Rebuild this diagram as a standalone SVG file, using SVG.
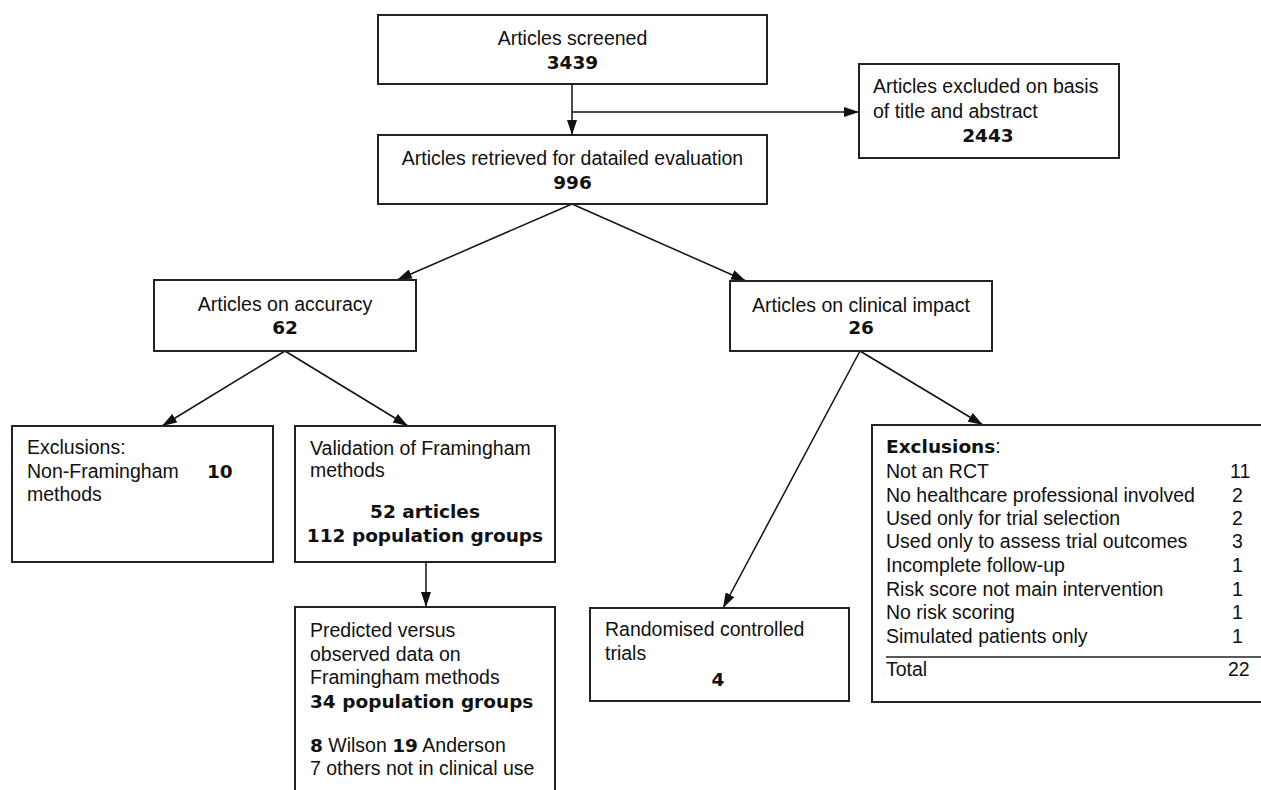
<svg xmlns="http://www.w3.org/2000/svg" width="1261" height="790" viewBox="0 0 1261 790">
<style>
.box{fill:#fff;stroke:#222;stroke-width:2}
.t{font-family:"Liberation Sans",Arial,sans-serif;font-size:19.5px;fill:#111}
.b{font-family:"DejaVu Sans","Liberation Sans",sans-serif;font-weight:bold;font-size:18.5px;fill:#111}
.c{text-anchor:middle}
.con{stroke:#111;stroke-width:1.5;fill:none;marker-end:url(#ah)}
</style>
<defs>
<marker id="ah" markerUnits="userSpaceOnUse" markerWidth="15" markerHeight="10" refX="15" refY="5" orient="auto">
<path d="M0,0 L15,5 L0,10 z" fill="#111"/>
</marker>
</defs>
<rect width="1261" height="790" fill="#fff"/>
<g id="connectors">
<line class="con" x1="572" y1="84" x2="572" y2="135"/>
<line class="con" x1="572" y1="112" x2="859" y2="112"/>
<line class="con" x1="572" y1="204" x2="397" y2="280"/>
<line class="con" x1="572" y1="204" x2="746" y2="281"/>
<line class="con" x1="285" y1="351" x2="162" y2="426"/>
<line class="con" x1="285" y1="351" x2="408" y2="426"/>
<line class="con" x1="426" y1="562" x2="426" y2="607"/>
<line class="con" x1="860" y1="351" x2="723" y2="608"/>
<line class="con" x1="860" y1="351" x2="983" y2="425"/>
</g>
<g id="screened">
<rect class="box" x="378" y="15" width="389" height="69"/>
<text class="t c" x="572.5" y="45">Articles screened</text>
<text class="b c" x="572.5" y="69">3439</text>
</g>
<g id="excluded-title">
<rect class="box" x="859" y="64" width="260" height="94"/>
<text class="t" x="873" y="93">Articles excluded on basis</text>
<text class="t" x="873" y="118">of title and abstract</text>
<text class="b c" x="988" y="142">2443</text>
</g>
<g id="retrieved">
<rect class="box" x="378" y="135" width="389" height="69"/>
<text class="t c" x="572.5" y="165">Articles retrieved for datailed evaluation</text>
<text class="b c" x="572.5" y="189">996</text>
</g>
<g id="accuracy">
<rect class="box" x="154" y="280" width="262" height="71"/>
<text class="t c" x="285" y="311">Articles on accuracy</text>
<text class="b c" x="285" y="334">62</text>
</g>
<g id="clinical">
<rect class="box" x="730" y="281" width="262" height="70"/>
<text class="t c" x="861" y="312">Articles on clinical impact</text>
<text class="b c" x="861" y="334">26</text>
</g>
<g id="excl-nonfram">
<rect class="box" x="12" y="426" width="261" height="136"/>
<text class="t" x="27" y="454">Exclusions:</text>
<text class="t" x="27" y="478">Non-Framingham</text>
<text class="t" x="27" y="501">methods</text>
<text class="b" x="207" y="478">10</text>
</g>
<g id="validation">
<rect class="box" x="295" y="426" width="260" height="136"/>
<text class="t" x="310" y="455">Validation of Framingham</text>
<text class="t" x="310" y="477">methods</text>
<text class="b c" x="425" y="518">52 articles</text>
<text class="b c" x="425" y="542">112 population groups</text>
</g>
<g id="predicted">
<rect class="box" x="295" y="607" width="260" height="200"/>
<text class="t" x="310" y="637">Predicted versus</text>
<text class="t" x="310" y="661">observed data on</text>
<text class="t" x="310" y="684">Framingham methods</text>
<text class="b" x="310" y="708">34 population groups</text>
<text class="t" x="310" y="752"><tspan class="b">8</tspan> Wilson <tspan class="b">19</tspan> Anderson</text>
<text class="t" x="310" y="775">7 others not in clinical use</text>
</g>
<g id="rct">
<rect class="box" x="590" y="608" width="259" height="93"/>
<text class="t" x="605" y="636">Randomised controlled</text>
<text class="t" x="605" y="660">trials</text>
<text class="b c" x="718" y="686">4</text>
</g>
<g id="excl-clinical">
<rect class="box" x="872" y="425" width="400" height="277"/>
<text class="t" x="886" y="453"><tspan class="b">Exclusions</tspan>:</text>
<text class="t" x="886" y="478">Not an RCT</text>
<text class="t" x="886" y="502">No healthcare professional involved</text>
<text class="t" x="886" y="525">Used only for trial selection</text>
<text class="t" x="886" y="548">Used only to assess trial outcomes</text>
<text class="t" x="886" y="572">Incomplete follow-up</text>
<text class="t" x="886" y="596">Risk score not main intervention</text>
<text class="t" x="886" y="619">No risk scoring</text>
<text class="t" x="886" y="643">Simulated patients only</text>
<line x1="886" y1="657" x2="1261" y2="657" stroke="#222" stroke-width="1.5"/>
<text class="t" x="886" y="676">Total</text>
<text class="t" x="1230" y="478">11</text>
<text class="t" x="1232" y="502">2</text>
<text class="t" x="1232" y="525">2</text>
<text class="t" x="1232" y="548">3</text>
<text class="t" x="1232" y="572">1</text>
<text class="t" x="1232" y="596">1</text>
<text class="t" x="1232" y="619">1</text>
<text class="t" x="1232" y="643">1</text>
<text class="t" x="1228" y="676">22</text>
</g>
</svg>
